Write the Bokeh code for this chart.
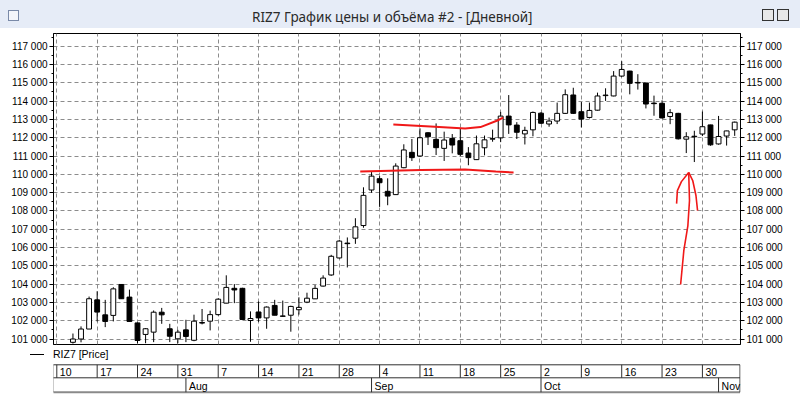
import numpy as np
import pandas as pd
from bokeh.plotting import figure
from bokeh.models import Range1d, FixedTicker, LinearAxis, Grid, ColumnDataSource, Label, Div
from bokeh.layouts import column
from bokeh.embed import file_html
from bokeh.resources import INLINE
from bokeh.core.properties import value

# ---------------- data ----------------
dates = pd.bdate_range("2017-07-12", "2017-11-03")
opens = [100820, 101000, 101545,
         103140, 102320, 102290, 103980, 103290,
         101880, 101250, 101375, 102465, 101560,
         101010, 101500, 100930, 101900, 101975,
         102333, 102960, 103770, 103770, 102010,
         102477, 102154, 102835, 102260, 102300,
         102600, 103014, 103194, 103892, 104500,
         105430, 106240, 106510, 107200, 109143,
         109760, 109070, 108890, 110360, 111200,
         111000, 112270, 111910, 111418, 111964,
         111836, 111162, 110802, 111450, 111920,
         111991, 113180, 112690, 112207, 112430,
         113340, 112748, 112910, 113330, 114335,
         113420, 113107, 113504, 114300, 114282,
         115367, 115640, 115020, 114990, 113890,
         113880, 113160, 113330, 111920, 112080,
         112200, 112700, 111660, 112090, 112430]
highs = [101300, 101690, 103320,
         103610, 103140, 103830, 104000, 103700,
         101900, 101600, 102560, 102700, 101830,
         101500, 102050, 102330, 102640, 102550,
         103230, 104480, 104000, 103800, 102510,
         103050, 102780, 103140, 103100, 102820,
         103280, 103530, 103950, 104480, 105600,
         106410, 106550, 107600, 109290, 110120,
         109900, 109780, 110600, 111640, 111930,
         112510, 112300, 112780, 112330, 112200,
         112510, 111486, 112117, 112117, 112440,
         113410, 114330, 112850, 112600, 113430,
         113400, 113100, 113920, 114640, 114730,
         113950, 113920, 114463, 114700, 115640,
         116180, 115660, 115470, 115000, 114300,
         114040, 113560, 113360, 112300, 112380,
         113430, 112710, 113190, 112380, 112880]
lows = [100750, 100820, 101545,
        101960, 101650, 101960, 103200, 101960,
        100770, 100770, 100830, 101830, 100830,
        100770, 100830, 100880, 101800, 101470,
        102280, 102950, 102960, 102050, 100850,
        101940, 101560, 102300, 102230, 101400,
        102333, 102960, 103190, 103870, 104450,
        105400, 104910, 106200, 107080, 108990,
        108220, 108310, 108880, 110330, 110730,
        110960, 111600, 111055, 110730, 111145,
        111000, 110495, 110780, 111036, 111780,
        111757, 112207, 111930, 111630, 112076,
        112750, 112600, 112745, 113300, 113300,
        112560, 113050, 113480, 114010, 114260,
        115330, 114370, 114630, 113600, 113200,
        113060, 112740, 111900, 111160, 110670,
        112090, 111560, 111620, 111570, 112100]
closes = [101000, 101545, 103200,
          102470, 101960, 103740, 103200, 101960,
          100920, 101560, 102465, 102320, 101150,
          101375, 101140, 101975, 101870, 102333,
          103176, 103820, 103680, 102065, 102120,
          102154, 102745, 102300, 102240, 102780,
          102727, 103230, 103767, 104330, 105520,
          106350, 106210, 107130, 108850, 109900,
          109540, 108810, 110450, 111330, 110910,
          112000, 112055, 111455, 111873, 111600,
          111090, 110910, 111667, 111883, 111950,
          113180, 112700, 112297, 112400, 113380,
          112790, 112910, 113330, 114350, 113330,
          113016, 113490, 114280, 114330, 115367,
          115730, 114970, 114990, 113840, 113860,
          113080, 113370, 111940, 112050, 112050,
          112600, 111610, 112066, 112370, 112850]

price_ticks = [101000, 102000, 103000, 104000, 105000, 106000, 107000, 108000, 109000,
               110000, 111000, 112000, 113000, 114000, 115000, 116000, 117000]
price_tick_labels = ["101 000", "102 000", "103 000", "104 000", "105 000", "106 000", "107 000",
                     "108 000", "109 000", "110 000", "111 000", "112 000", "113 000", "114 000",
                     "115 000", "116 000", "117 000"]
week_starts = pd.date_range("2017-07-10", "2017-10-30", freq="W-MON")
week_labels = ["10", "17", "24", "31", "7", "14", "21", "28", "4", "11", "18", "25",
               "2", "9", "16", "23", "30"]
month_starts = ["2017-08-01", "2017-09-01", "2017-10-02", "2017-11-01"]
month_labels = ["Aug", "Sep", "Oct", "Nov"]
last_price = 112850
last_price_label = "112 850"
series_name = "RIZ7 [Price]"
title_text = "RIZ7 График цены и объёма #2 - [Дневной]"

# hand-drawn red marks (trading-day index, price)
upper_mark_day = [41.7, 46.3, 50.6, 52.5, 54.6, 55.3]
upper_mark_price = [112720, 112610, 112500, 112580, 112940, 113100]
lower_mark_day = [37.6, 45.1, 50.6, 54.4, 56.6]
lower_mark_price = [110150, 110240, 110260, 110150, 110100]
arrow_stem_day = [78.3, 78.4, 78.2, 77.7, 77.3]
arrow_stem_price = [110100, 108570, 107200, 105840, 103980]
arrow_left_day = [76.8, 76.9, 77.4, 78.3]
arrow_left_price = [108400, 109110, 109600, 110100]
arrow_right_day = [78.3, 78.8, 79.2, 79.4]
arrow_right_price = [110100, 109660, 108840, 108020]

# ---------------- geometry ----------------
ORIGIN = "2017-07-10"
def day_index(d):
    return np.busday_count(ORIGIN, np.array(pd.to_datetime(d).values, dtype="datetime64[D]"))

X0, X1 = -0.41, 84.72
Y0, Y1 = 100700, 117694
W = 800
ML, MR = 53, 60
FW = W - ML - MR
K = (X1 - X0) / FW          # day units per pixel

FONT = value("Liberation Sans")

idx = day_index(dates)
o = np.array(opens); c = np.array(closes)
up = c >= o
src = ColumnDataSource(dict(
    x=idx, high=highs, low=lows,
    top=np.maximum(o, c), bottom=np.minimum(o, c),
    fill=np.where(up, "white", "black"),
))

# ---------------- main chart ----------------
p = figure(width=W, height=318, output_backend="svg", toolbar_location=None, title=None,
           x_range=Range1d(X0, X1), y_range=Range1d(Y0, Y1),
           x_axis_location=None, y_axis_location="left",
           min_border_left=ML, min_border_right=MR, min_border_top=5, min_border_bottom=2,
           background_fill_color="white", border_fill_color="white",
           outline_line_color="black", outline_line_width=1)
p.grid.visible = False

minor = [v + 500 for v in price_ticks[:-1]] + [price_ticks[0] - 500, price_ticks[-1] + 500]
overrides = {v: s for v, s in zip(price_ticks, price_tick_labels)}

right_axis = LinearAxis()
p.add_layout(right_axis, "right")
for ax in (p.yaxis[0], right_axis):
    ax.ticker = FixedTicker(ticks=price_ticks, minor_ticks=minor)
    ax.major_label_overrides = overrides
    ax.axis_line_color = "black"
    ax.major_tick_line_color = "black"
    ax.minor_tick_line_color = "black"
    ax.major_tick_out = 4
    ax.major_tick_in = 0
    ax.minor_tick_out = 2
    ax.minor_tick_in = 0
    ax.major_label_standoff = 2
    ax.major_label_text_font = "Liberation Sans"
    ax.major_label_text_font_size = "10px"
    ax.major_label_text_color = "black"

mondays = day_index(week_starts)
p.add_layout(Grid(dimension=0, ticker=FixedTicker(ticks=list(mondays)),
                  grid_line_color="#8c8c8c", grid_line_dash="4 3", grid_line_width=1))
p.add_layout(Grid(dimension=1, ticker=FixedTicker(ticks=price_ticks),
                  grid_line_color="#8c8c8c", grid_line_dash="4 3", grid_line_width=1))

p.segment(x0="x", y0="low", x1="x", y1="high", source=src, line_color="black", line_width=1)
p.vbar(x="x", width=0.6, top="top", bottom="bottom", source=src,
       fill_color="fill", line_color="black", line_width=1)

red = "#f01818"
p.line(upper_mark_day, upper_mark_price, line_color=red, line_width=2)
p.line(lower_mark_day, lower_mark_price, line_color=red, line_width=2)
p.line(arrow_stem_day, arrow_stem_price, line_color=red, line_width=1.6)
p.line(arrow_left_day, arrow_left_price, line_color=red, line_width=1.6)
p.line(arrow_right_day, arrow_right_price, line_color=red, line_width=1.6)

p.add_layout(Label(x=X1, y=last_price, x_offset=7, text=last_price_label,
                   text_font="Liberation Sans", text_font_size="10px", text_color="black",
                   text_baseline="middle", text_align="left",
                   border_line_color="black", border_line_width=1,
                   background_fill_color="white", padding=1))

# ---------------- legend row ----------------
legend_html = (
    '<div style="position:relative;width:800px;height:16px;background:white;overflow:hidden;">'
    '<div style="position:absolute;left:30px;top:8px;width:14px;height:1px;background:black;"></div>'
    '<div style="position:absolute;left:53px;top:0px;line-height:17px;font-family:\'Liberation Sans\';'
    'font-size:10.5px;color:black;white-space:nowrap;">' + series_name + '</div>'
    '</div>'
)
legend_row = Div(text=legend_html, width=W, height=16, styles={"margin": "0", "padding": "0"})

# ---------------- date strip (same frame as the chart) ----------------
b = figure(width=W, height=36, output_backend="svg", toolbar_location=None, title=None,
           x_range=p.x_range, y_range=Range1d(36, 0),
           x_axis_location=None, y_axis_location=None,
           min_border_left=ML, min_border_right=MR, min_border_top=0, min_border_bottom=0,
           outline_line_color=None, background_fill_color="white", border_fill_color="white")
b.grid.visible = False

XL, XR = X0 - 0.5 * K, X1 - 0.5 * K
ROW_T, ROW_M, ROW_B = 2.3, 15.3, 29.7
b.segment(x0=[XL, XL], y0=[ROW_T, ROW_M], x1=[XR, XR], y1=[ROW_T, ROW_M], line_color="#303030", line_width=1)
b.segment(x0=[XL], y0=[ROW_B], x1=[XR], y1=[ROW_B], line_color="#8a8a8a", line_width=2)
b.segment(x0=[XL, XR], y0=[ROW_T, ROW_T], x1=[XL, XR], y1=[ROW_B, ROW_B], line_color="#303030", line_width=1)
b.segment(x0=mondays, y0=ROW_T, x1=mondays, y1=ROW_M, line_color="#303030", line_width=1)
month_idx = day_index(month_starts)
b.segment(x0=month_idx, y0=ROW_M, x1=month_idx, y1=ROW_B, line_color="#303030", line_width=1)
b.text(x=mondays, y=9, text=week_labels, x_offset=3, text_align="left", text_baseline="middle",
       text_font=FONT, text_font_size="10.5px", text_color="black")
b.text(x=month_idx, y=23, text=month_labels, x_offset=3, text_align="left", text_baseline="middle",
       text_font=FONT, text_font_size="10.5px", text_color="black")

# ---------------- window title bar ----------------
title_html = (
    '<div style="position:relative;width:800px;height:28px;background:#e6ecf7;overflow:hidden;">'
    '<div style="position:absolute;left:8px;top:10px;width:11px;height:11px;border:1px solid #7a8aa8;background:#f4f6fb;"></div>'
    '<div style="position:absolute;left:252px;top:7px;line-height:20px;font-family:\'Noto Sans\';'
    'font-size:13.5px;color:#2a2a2a;white-space:nowrap;">' + title_text + '</div>'
    '<div style="position:absolute;left:762px;top:9px;width:12px;height:12px;border:1px solid #333;background:#e8e8e8;"></div>'
    '<div style="position:absolute;left:777px;top:9px;width:12px;height:12px;border:1px solid #333;background:#e8e8e8;"></div>'
    '</div>'
)
head = Div(text=title_html, width=W, height=28, styles={"margin": "0", "padding": "0"})

layout = column(head, p, legend_row, b, spacing=0)
open("out.html", "w").write(file_html(layout, INLINE))
